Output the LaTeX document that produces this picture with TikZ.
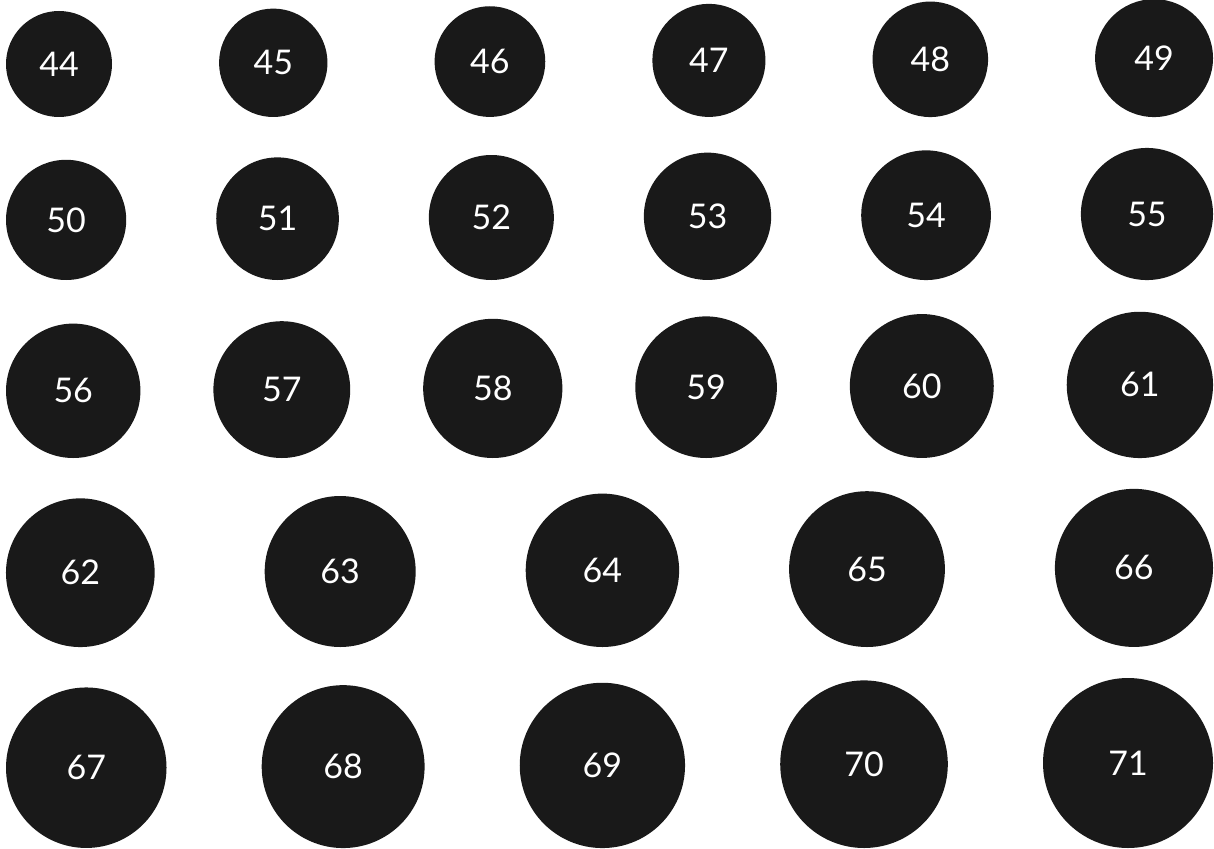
\documentclass[tikz,border=0pt]{standalone}
\usepackage{fontspec}
\setmainfont{Lato}
\definecolor{ballfill}{HTML}{191919}
\begin{document}
\begin{tikzpicture}[x=1pt,y=-1pt,
  ball/.style={circle, fill=ballfill, draw=none, inner sep=0pt, text=white,
    font=\fontsize{34}{34}\selectfont, minimum size=#1}]
\fill[white] (0,0) rectangle (1214,848);
\useasboundingbox (0,0) rectangle (1214,848);
% row 1
\node[ball=106.0pt] (n44) at (59.00,64.0) {44};
\node[ball=108.4pt] (n45) at (273.27,62.8) {45};
\node[ball=110.7pt] (n46) at (489.91,61.6) {46};
\node[ball=113.1pt] (n47) at (708.92,60.4) {47};
\node[ball=115.5pt] (n48) at (930.30,59.3) {48};
\node[ball=117.9pt] (n49) at (1154.05,58.1) {49};
% row 2
\node[ball=120.2pt] (n50) at (66.11,219.9) {50};
\node[ball=122.6pt] (n51) at (277.54,218.7) {51};
\node[ball=125.0pt] (n52) at (491.34,217.5) {52};
\node[ball=127.3pt] (n53) at (707.51,216.3) {53};
\node[ball=129.7pt] (n54) at (926.05,215.2) {54};
\node[ball=132.1pt] (n55) at (1146.96,214.0) {55};
% row 3
\node[ball=134.4pt] (n56) at (73.22,390.8) {56};
\node[ball=136.8pt] (n57) at (281.81,389.6) {57};
\node[ball=139.2pt] (n58) at (492.77,388.4) {58};
\node[ball=141.6pt] (n59) at (706.10,387.2) {59};
\node[ball=143.9pt] (n60) at (921.80,386.0) {60};
\node[ball=146.3pt] (n61) at (1139.87,384.9) {61};
% row 4
\node[ball=148.7pt] (n62) at (80.33,572.7) {62};
\node[ball=151.0pt] (n63) at (340.18,571.5) {63};
\node[ball=153.4pt] (n64) at (602.40,570.3) {64};
\node[ball=155.8pt] (n65) at (866.99,569.1) {65};
\node[ball=158.1pt] (n66) at (1133.95,567.9) {66};
% row 5
\node[ball=160.5pt] (n67) at (86.26,767.7) {67};
\node[ball=162.9pt] (n68) at (343.14,766.6) {68};
\node[ball=165.3pt] (n69) at (602.39,765.4) {69};
\node[ball=167.6pt] (n70) at (864.01,764.2) {70};
\node[ball=170.0pt] (n71) at (1128.00,763.0) {71};
\end{tikzpicture}
\end{document}
